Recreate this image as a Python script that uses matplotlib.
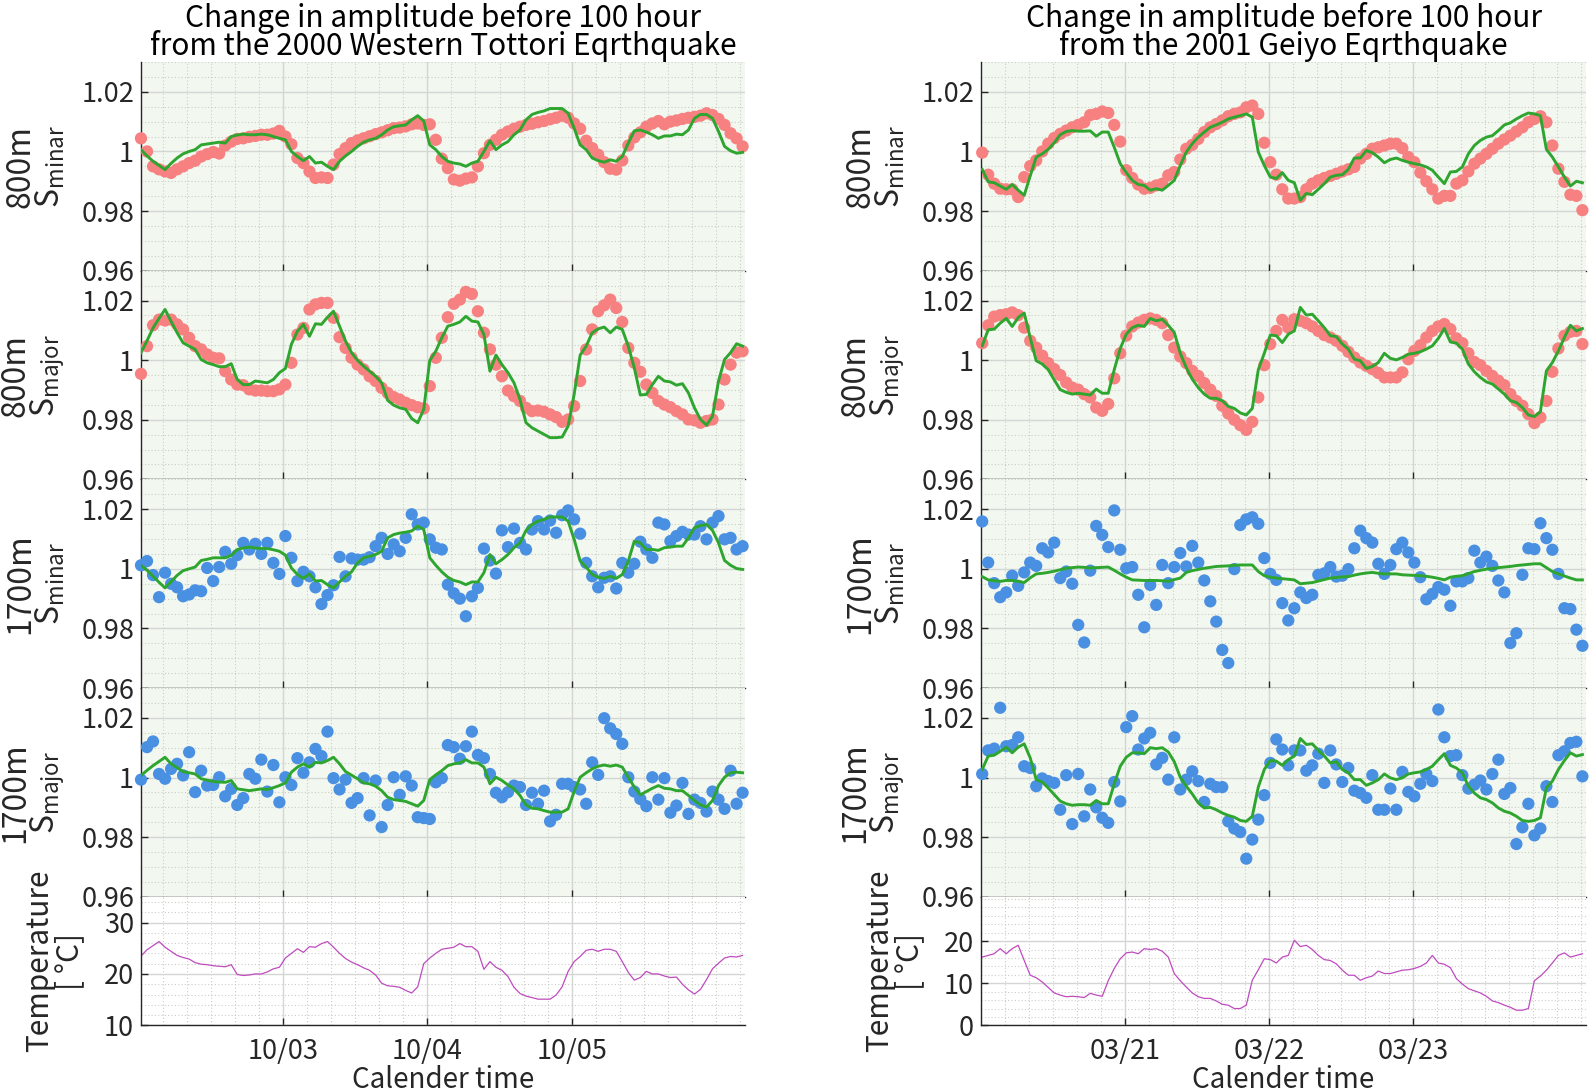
import numpy as np
import pandas as pd
import matplotlib
matplotlib.use('Agg')
import matplotlib.pyplot as plt
import matplotlib.dates as mdates
from matplotlib.ticker import FixedLocator, MultipleLocator, FuncFormatter

plt.rcParams['font.family'] = ['Noto Sans CJK JP', 'DejaVu Sans']

# ---------------- data ----------------
# hourly samples, 101 per series
# amplitude series are given as deviation from 1 in units of 1e-3
tottori_start = pd.Timestamp('2000-10-02 00:24')
geiyo_start = pd.Timestamp('2001-03-20 00:10')

tottori_800_minar = [
    4.4, 0, -5, -6, -6.7, -7.2, -6, -5, -3.9, -3.1,
    -1.7, -0.9, -0.2, -0.7, 2, 3.3, 4.2, 4.4, 4.9, 5.2,
    5.6, 5.6, 6, 6.9, 5, 2.4, -2.2, -3.9, -6.7, -8.9,
    -8.7, -8.9, -4.4, -0.9, 1.1, 2.8, 3.7, 4.4, 5.1, 5.8,
    6.4, 7.1, 7.8, 8, 8.4, 9.1, 9.4, 8.9, 9.1, 3.9,
    -2.4, -5.6, -9.4, -9.8, -9.1, -8.7, -5, -0.6, 2.2, 3.9,
    5.6, 6.7, 7.6, 8.3, 8.9, 9.3, 9.8, 10.2, 10.8, 11.3,
    12, 11.3, 9.4, 7.6, 3.6, 1.1, -1.1, -3.6, -5.8, -6.1,
    -3, 2, 4.7, 6.4, 8.3, 9.4, 10.2, 9.1, 10, 10.4,
    10.9, 11.3, 11.6, 12, 12.8, 12.2, 10.9, 8.9, 6.1, 4.4,
    1.7]
tottori_800_minar_fit = [
    0.6, -1.5, -3.3, -4.7, -6.1, -4, -2.2, -0.8, 0, 0.6,
    2.2, 2.5, 2.8, 3.1, 2.8, 5, 5.5, 5.8, 5.6, 5.6,
    5.8, 5.6, 5, 4.4, 3.9, 0, -1.7, -3.1, -1.7, -3.9,
    -3.6, -5, -6.1, -3.3, -1.5, 0, 1.7, 3.1, 3.9, 4.4,
    5.6, 7.2, 8.3, 8.6, 8.9, 10.6, 12, 10.2, 2.2, 0.6,
    -1.7, -3.3, -3.9, -4.2, -5, -3.9, -3.3, 0, 3.6, 0.6,
    2.2, 3.3, 5.6, 7.2, 10.6, 12.4, 13.1, 13.6, 14.4, 14.4,
    14.4, 12.8, 7.8, 2.2, 0.6, -2.2, -3.1, -3.6, -2.8, -3.3,
    -1.7, 2.8, 6.9, 7.2, 6.5, 5.6, 4.4, 5.2, 5.2, 5.8,
    5.6, 7.2, 11.1, 12.4, 12.4, 11.1, 6.7, 1.7, 0.2, -0.6,
    -0.3]
tottori_800_major = [
    -4.6, 4.7, 11.7, 13.6, 13.3, 13.6, 12, 10.3, 7.5, 4.7,
    3.6, 1.9, 0.8, 0.6, -3.7, -6.5, -8.2, -8.4, -9.8, -10.2,
    -10.2, -10.4, -10.4, -9.8, -8.2, -0.9, 8.6, 10.8, 17, 18.7,
    19.2, 19.2, 14.2, 7.7, 4.1, 0.8, -1.5, -3.1, -5.4, -7,
    -9.3, -11, -12.4, -13.2, -14.3, -15.1, -15.8, -16.2, -8.7, 0.8,
    7.5, 14.4, 18.9, 20.3, 22.9, 22.2, 16.4, 9.2, 3.6, -1.5,
    -5.4, -10.2, -12.1, -13.7, -16, -17.1, -16.9, -17.3, -18.2, -19.1,
    -20.7, -19.9, -15.4, -7, 3.6, 10.3, 16.4, 18.4, 20.3, 17.5,
    12.8, 4.1, -0.9, -3.9, -8.2, -11, -13.7, -14.9, -15.8, -17.1,
    -18.2, -19.9, -20.2, -21, -20.4, -19.9, -14.9, -6.5, -1.5, 2.5,
    3]
tottori_800_major_fit = [
    2.5, 6.5, 10.8, 14, 17, 13, 9.2, 5.8, 4.7, 3.6,
    0.2, -0.9, -1.5, -2.2, -2.2, -1.2, -6.5, -8.2, -8.2, -7,
    -7.3, -7.6, -6.5, -4.2, -2.8, 5.3, 9.7, 12, 8, 12.2,
    12, 14.4, 16.4, 11.4, 6.4, 2.5, -0.1, -2, -3.7, -5.4,
    -7.6, -13.5, -15.1, -16, -16.5, -19.6, -21, -16.5, -0.1, 3,
    7.5, 11.4, 12, 12.8, 14.7, 13.1, 12.8, 8.6, -3.7, 1.7,
    -1.5, -4.2, -7.6, -13.2, -21, -22.7, -23.8, -24.9, -26, -26,
    -25.8, -22.1, -11.5, 1.7, 4.7, 9.2, 10.5, 11.1, 9.2, 11.1,
    10.3, 4.7, -2.6, -11.7, -11.5, -8.2, -5.4, -7, -7.3, -8.4,
    -7.9, -11, -16, -19.9, -21.8, -18.8, -7, 0.2, 2.5, 5.5,
    4.7]
tottori_1700_minar = [
    1.2, 2.6, -2.1, -9.5, -1.3, -5, -6.2, -9.2, -8.6, -7.2,
    -7.5, 0.3, -4.1, 0.6, 5.7, 1.7, 4.6, 8.7, 6.5, 8.4,
    5, 8.7, 2, -1.7, 11, 3.7, -4.1, -1, -2.5, -6.2,
    -11.8, -8.8, -5.5, 4, -2.5, 3.5, 3.1, 3.1, 3.9, 7.6,
    10.4, 5, 8.2, 5.9, 10.4, 18.3, 14.9, 15.5, 9.9, 7.1,
    6.5, -5.3, -8.2, -10, -15.9, -9.2, -6.4, 6.8, 2.8, -1.6,
    12.9, 7.3, 13.5, 8.7, 6.5, 13.2, 16, 13.2, 16.2, 12.1,
    18, 19.6, 16.6, 11.8, 2, -2.5, -6.2, -3, -2.5, -6.6,
    2, -1.3, 1.7, 9.1, 6.5, 3.7, 15.5, 14.9, 9.3, 11,
    12.4, 11.5, 11.5, 14.3, 9.9, 15.5, 17.7, 9.9, 10.4, 6.5,
    7.6]
tottori_1700_minar_fit = [
    1.2, -0.5, -2.5, -4.5, -6.4, -4.3, -2.2, -0.6, 0, 0.6,
    2.8, 3.2, 3.7, 3.7, 3.7, 4.5, 6.5, 7, 7.3, 7,
    6.8, 6.8, 6.4, 5.9, 4.6, 0.3, -1.9, -3.2, -1.7, -4.1,
    -3.9, -5.3, -6.4, -4.4, -2.5, -1, 2, 3.7, 4.2, 4.8,
    5.9, 10.4, 11.5, 12, 12.3, 12.7, 14.3, 13.2, 3.7, 1.2,
    -1, -2.8, -3.9, -4.4, -5.3, -4.4, -4.4, -1.3, 4.8, 1.7,
    3.1, 4.8, 7.1, 8.7, 12.9, 14.9, 16, 16.6, 17.4, 17.4,
    17.4, 16, 9.9, 2.6, 0.6, -1.9, -2.8, -3.2, -2.5, -3.2,
    -1.9, 2.6, 9.3, 8.7, 6.5, 6.5, 6.2, 7.1, 7.3, 7.6,
    7.6, 10.4, 13.8, 14.5, 14.9, 12.9, 8.7, 2.8, 1.2, 0.1,
    -0.2]
tottori_1700_major = [
    -0.7, 10.2, 12.1, 1.2, -0.4, 2.9, 4.6, 0.7, 8.5, -4.9,
    2.3, -2.7, -2.5, 0.1, -6.3, -3.8, -9.2, -6.9, 1.2, -0.4,
    6, -4.7, 4.2, -8.3, 0.1, -2.5, 6.5, 1.6, 5.1, 9.6,
    7.2, 15.4, -0.2, -4, -0.7, -8.5, -6.9, -0.2, -12.7, -1,
    -16.6, -9.2, 0.1, -5.8, 0.4, -2.7, -13.3, -13.6, -13.9, -1.6,
    -0.2, 10.9, 10.2, 6.3, 10.5, 15.4, 7.6, 6.5, 1.2, -5.1,
    -6.6, -4.9, -2.7, -3.2, -9.2, -5.1, -8.8, -4.4, -14.7, -12.5,
    -2.1, -2.1, -3.2, -4, -8.8, 5.1, 0.9, 19.9, 16.5, 14.6,
    11.3, 0.1, -4.7, -7.2, -9.6, 0.1, -7.4, -0.2, -11.8, -9.4,
    -1.8, -12.2, -7.4, -8.5, -11.4, -4.7, -7.4, -10.5, 2.3, -8.8,
    -5.1]
tottori_1700_major_fit = [
    0.7, 2.4, 4, 5.4, 6.8, 4.6, 3.3, 2, 1.6, 1.2,
    -0.4, -0.9, -1.3, -1.5, -1.6, -1, -3.8, -4.1, -4.4, -4.1,
    -3.8, -4, -3.4, -2.7, -1.8, 1.8, 3.5, 4.6, 3.5, 5.1,
    4.9, 5.7, 6.8, 4.6, 2, 0.8, -0.4, -1.8, -2.1, -2.9,
    -4.4, -6.6, -7.4, -7.7, -8, -8.8, -9.6, -7.7, -0.7, 0.9,
    2.3, 4, 4.6, 4.9, 6, 4.9, 4.9, 3.5, -2.1, 0.1,
    -1, -2.5, -3.8, -6, -9.2, -10.3, -10.5, -11.1, -11.6, -11.6,
    -11.6, -10.5, -4.7, 0.1, 1.6, 2.9, 3.8, 4.2, 3.8, 4.2,
    3.5, 0.1, -3.2, -5.8, -4.7, -3.6, -2.7, -3.6, -3.8, -4.4,
    -4.4, -6, -7.7, -9.2, -9.9, -7.7, -2.7, 0.1, 1.6, 1.8,
    1.6]
tottori_temp = [
    23.5, 24.7, 25.5, 26.3, 25.2, 24.4, 23.6, 23.2, 22.9, 22.2,
    21.9, 21.8, 21.6, 21.5, 21.4, 21.8, 19.9, 19.7, 19.8, 20,
    20, 20.4, 21, 21.3, 23.1, 24, 24.9, 24.2, 25.3, 25.2,
    25.9, 26.3, 25.2, 24, 23, 22.3, 21.8, 21.2, 20.7, 19.8,
    18.2, 17.7, 17.6, 17.4, 16.8, 16.3, 17.5, 22, 23.1, 24,
    24.8, 25, 25.2, 25.9, 25.3, 25.3, 24.4, 20.9, 22.4, 21.3,
    20.7, 19.5, 17.4, 16.2, 15.7, 15.4, 15.1, 15.1, 15.1, 15.9,
    17.5, 20.5, 22.4, 23.4, 24.6, 24.8, 24.4, 24.8, 24.8, 24.4,
    22.4, 20.3, 18.8, 19.3, 20.5, 20, 20, 19.6, 19.3, 19.4,
    18, 16.9, 16.1, 17, 18.9, 21, 22.1, 23.1, 23.4, 23.3,
    23.6]

geiyo_800_minar = [
    -0.4, -7.8, -10.8, -12.5, -12.7, -12.7, -15.3, -8.6, -4.9, -3,
    0, 2.6, 4.5, 5.9, 7, 8.1, 8.9, 9.8, 12.2, 12.6,
    13.4, 12.9, 8.9, 3.3, -6.3, -8.9, -11.1, -12.5, -12.2, -11.4,
    -10.8, -8, -6.9, -2.7, 0.9, 2.2, 4.2, 6.5, 8.1, 9.2,
    10.4, 11.8, 12.6, 13.1, 14.8, 15.4, 12.6, 2.9, -3.6, -7.8,
    -12.7, -15.8, -15.8, -15.3, -12.7, -10.8, -9.7, -8.9, -8.2, -7.5,
    -6.7, -6, -5.2, -2.4, -0.8, 0.9, 1.4, 2, 2.6, 2.6,
    1.1, -1.9, -3.6, -7.1, -10, -12.7, -15.8, -14.9, -14.9, -10.8,
    -9.7, -6.7, -4.1, -2.4, -0.8, 0.9, 2.6, 4, 5.3, 6.7,
    8.1, 9.8, 10.9, 11.8, 9.8, 2, -5.8, -10.2, -14.5, -14.9,
    -19.7]
geiyo_800_minar_fit = [
    -6, -10.2, -10.5, -11.6, -12.7, -11.1, -13, -14.7, -8.2, -1.9,
    -0.8, 0.7, 2.9, 5.6, 6.7, 7, 6.8, 6.8, 6.9, 5.1,
    6.5, 6.5, 1.4, -4.1, -7.1, -9.7, -11.1, -11.4, -13, -12.5,
    -13, -11.4, -9.7, -4.7, -0.2, 2.6, 4.8, 6.5, 8.1, 8.9,
    9.8, 10.9, 11.5, 12, 12.6, 11.5, -0.2, -4.7, -8.6, -9.1,
    -7.1, -9.7, -10.5, -16.4, -14.1, -14.5, -12.7, -10.8, -8.6, -8,
    -7.8, -6, -2.2, -2.2, 0.3, -0.4, -1.9, -3.8, -2.7, -2.2,
    -3, -3.6, -4.1, -4.5, -5.2, -6.3, -8.6, -10.8, -6.9, -6.7,
    -5.2, -0.8, 2, 3.7, 4.8, 5.3, 7, 8.9, 9.6, 10.9,
    12, 12.9, 12.6, 12, 0.7, -1.9, -5.2, -8.6, -11.6, -10,
    -10.5]
geiyo_800_major = [
    5.7, 11.7, 14.6, 15.1, 15.4, 16, 15.1, 10.9, 6.5, 4.2,
    1.5, -1, -3, -5, -7.5, -9.2, -9.9, -11.4, -12.5, -15.9,
    -17, -14.7, -6.1, 2.3, 8.2, 11.3, 12.6, 13.5, 14, 13.5,
    12.4, 8.4, 4.2, 1.2, -1, -3.6, -5.3, -7.7, -9.9, -12,
    -15.3, -17.9, -20, -21.8, -23.4, -20.7, -12.5, -1.7, 5.4, 9.8,
    13.5, 10.9, 13.7, 13.2, 12.4, 11.3, 9.8, 8.4, 7.6, 6.5,
    4.8, 2.8, 0.9, -0.8, -1.9, -3, -4.3, -5.8, -5.8, -5.8,
    -4.1, 0.3, 3.1, 5, 7.6, 9.8, 11.3, 12.1, 10.4, 7.3,
    5.7, 2.3, -0.6, -1.7, -3.6, -5.3, -6.9, -8.4, -11.4, -13.7,
    -15.3, -18.1, -21.1, -19.2, -13.7, -3.9, 3.9, 8.2, 9.5, 9.8,
    5.4]
geiyo_800_major_fit = [
    4.8, 10.2, 10.4, 12.4, 14, 11.3, 14.3, 15.8, 7.5, -0.2,
    -1.3, -3.2, -6.6, -9.9, -10.8, -11.4, -11.1, -11.4, -11.7, -9.7,
    -11.1, -11.1, -3.2, 3.9, 8.7, 10.9, 11.7, 11.3, 14, 13.2,
    13.7, 11.7, 9.3, 2.3, -2.5, -6.4, -9.2, -11.4, -12.8, -12.8,
    -13.6, -15.5, -16.2, -17.7, -18.4, -16.2, -3.2, 2.3, 8.4, 8.2,
    5.9, 8.7, 9.8, 17.7, 15.1, 15.4, 13.2, 10.9, 8.2, 7.9,
    5.4, 3.7, 0.3, -0.2, -2.8, -2.1, -0.8, 2.3, 0.6, 0.1,
    0.9, 2, 2.3, 2.8, 3.7, 4.8, 7.3, 10.6, 6.1, 5.7,
    3.7, -1.3, -3.9, -5.8, -7.3, -8, -9.7, -11.4, -13.6, -14.2,
    -15.9, -18.4, -18.9, -17.3, -3.6, -0.8, 3.1, 7.6, 11.7, 9.8,
    10.6]
geiyo_1700_minar = [
    15.9, 2.1, -4.8, -9.5, -7.9, -2.3, -5.7, -1.2, 2.1, 1,
    6.9, 5.5, 8.8, -3.1, -0.9, -5, -18.8, -24.7, -0.6, 14.4,
    11.4, 7.3, 19.6, 6.4, 0.2, 0.6, -8.7, -19.6, -5.4, -12.1,
    1.3, -4.8, 0.6, 5.3, 0.8, 7.7, 2.1, -3.9, -10.9, -17.7,
    -27.2, -31.6, -0.1, 14.7, 16.6, 17.3, 15.1, 3.6, -1.7, -3.7,
    -11.5, -17.3, -13.2, -7.9, -9.8, -8.7, -2, -1.5, 0.6, -2.6,
    -2.3, -0.1, 6.9, 12.8, 10.3, 8.8, 1.7, -1.7, 1.3, 6.6,
    8.8, 5.5, 2.1, -2.8, -10.2, -8.4, -6.1, -7, -12.4, -4.2,
    -4.2, -3.1, 6.1, 2.1, 4.1, 1, -3.9, -7.9, -24.9, -21.6,
    -2, 6.9, 6.6, 15.3, 10.3, 6.4, -1.7, -13.2, -13.5, -20.4,
    -25.8]
geiyo_1700_minar_fit = [
    -2.6, -3.7, -4, -4.2, -3.9, -3.9, -4.2, -4.6, -3, -1.7,
    -1.5, -1.2, -0.8, -0.3, 0.2, 0.4, 0.6, 0.5, 0.3, 0.4,
    0.5, 0.6, -0.5, -1.7, -2.8, -3.7, -3.8, -3.9, -3.9, -3.9,
    -4, -4.2, -3.6, -3.1, -1.2, -0.6, -0.2, 0.2, 0.5, 0.8,
    0.9, 1, 1.2, 1.3, 1.3, 1.3, -0.9, -2.3, -2.8, -3.1,
    -3.3, -3.5, -3.7, -5, -4.8, -4.6, -4.1, -3.6, -3.1, -2.9,
    -2.7, -2.6, -2.1, -1.7, -1.4, -1.2, -1.5, -1.7, -1.7, -1.7,
    -2, -2.1, -2.2, -2.3, -2.5, -2.8, -3.2, -3.7, -2.8, -2.5,
    -2.3, -1.6, -0.9, -0.5, -0.1, 0.1, 0.4, 0.6, 0.8, 1.1,
    1.3, 1.5, 1.7, 1.7, 0.4, -0.9, -1.7, -2.4, -3.1, -3.7,
    -3.7]
geiyo_1700_major = [
    1.2, 9.1, 9.7, 23.4, 10.5, 10.9, 13.5, 3.8, 3.2, -2.9,
    -0.3, -1.2, -1.8, -10.8, 0.8, -15.6, 1.2, -13, -4, -10,
    -13.5, -15.2, -1.5, -8, 16.9, 20.6, 9.4, 13.1, 15, 4.4,
    6.6, -0.7, 13.5, -4, -0.7, 2.1, -1.2, -8.2, -2.1, -3.2,
    -3.2, -14.7, -17.1, -18.3, -27.2, -20.8, -14.1, -5.9, 4.9, 12.8,
    9.4, 4.1, 9.1, 9.1, 2.3, 4.1, 8, -1.8, 9.1, 4.4,
    -1.5, 3.2, -4.4, -5.2, -6.8, 0.8, -10.8, -10.8, -3.7, -10.8,
    1.9, -4.8, -6.3, -2.1, 1.2, -1.2, 22.8, 13.5, 7.2, 7.5,
    0.8, -3.7, -2.4, -1, -4, 1.2, 6, -5.5, -3.5, -22.3,
    -16.7, -8.8, -19.4, -17.1, -2.9, -8.2, 7.5, 8.8, 11.6, 12,
    0.4]
geiyo_1700_major_fit = [
    2.7, 7.2, 7.5, 8.8, 10.2, 8.3, 10.2, 11.3, 6.6, -0.7,
    -1.5, -3.5, -5.7, -7.9, -8.8, -9.3, -9.1, -9.1, -9.3, -7.7,
    -8.8, -8.8, -2.1, 3.8, 6.8, 8.3, 8.3, 8, 10, 9.7,
    10, 8.6, 5.3, 0.1, -2.9, -5.5, -8.5, -10.2, -10, -10.8,
    -11.9, -12.7, -13.3, -14.4, -14.7, -13, -3.2, 2.7, 5.7, 5.5,
    4.1, 6, 7.2, 13.1, 11.1, 11.3, 9.1, 7.2, 4.9, 5.3,
    2.7, 1.6, -0.7, -0.7, -2.6, -1.8, -0.7, 1.2, -0.1, -0.7,
    -0.1, 1.2, 1.6, 1.9, 2.7, 3.8, 6, 8, 4.1, 3.2,
    1.6, -2.9, -5.2, -6.8, -7.4, -8.5, -10.2, -11.3, -11.9, -13,
    -14.4, -14.7, -14.4, -13.5, -3.5, -1.2, 2.7, 5.7, 8.3, 7.2,
    7.7]
geiyo_temp = [
    16.2, 16.6, 17, 18.2, 17, 18.2, 19, 15.4, 11.9, 11.3,
    10.3, 9, 7.7, 7.2, 6.8, 6.9, 6.8, 6.6, 7.6, 7.2,
    6.9, 10.6, 13.5, 15.8, 17.2, 17.4, 17, 18.2, 18, 18.2,
    17.6, 16.2, 12.3, 10.6, 9.1, 7.7, 6.8, 6.4, 6.4, 5.8,
    5, 4.8, 4, 4, 4.8, 10.7, 13.2, 15.8, 15.6, 14.8,
    16.2, 16.6, 20.2, 18.7, 19, 18, 16.6, 15.6, 15.4, 14.6,
    13.1, 11.9, 11.9, 10.7, 11.3, 11.7, 12.9, 12.3, 12.3, 12.7,
    13.1, 13.2, 13.5, 14, 14.8, 16.6, 14.8, 14.5, 13.7, 11.1,
    9.8, 8.7, 8.2, 7.7, 6.9, 5.8, 5.4, 4.8, 4.3, 3.6,
    3.6, 4, 10.6, 11.7, 13.1, 14.8, 16.6, 17.2, 16.2, 16.6,
    17]

tottori_days = ['2000-10-03', '2000-10-04', '2000-10-05']
geiyo_days = ['2001-03-21', '2001-03-22', '2001-03-23']

# ---------------- styling ----------------
RED = '#f78080'
BLUE = '#4a90e2'
GREEN = '#2ea52e'
MAGENTA = '#bf4bbf'
PANEL_BG = '#f2f8f0'
AXC = '#262626'

fig = plt.figure(figsize=(15.94, 10.92), dpi=100)

H = 1092.0
W = 1594.0
top_px = 62.0
panel_px = 208.7
temp_px = 128.6

cols = [
    dict(x0=141, w=604, start=tottori_start, lim=(0, 100.4), days=tottori_days,
         tlim=(10, 35), tticks=[10, 20, 30],
         title='Change in amplitude before 100 hour\nfrom the 2000 Western Tottori Eqrthquake',
         series=[(tottori_800_minar, tottori_800_minar_fit, RED, '800m\nS$_{\\mathregular{minar}}$'),
                 (tottori_800_major, tottori_800_major_fit, RED, '800m\nS$_{\\mathregular{major}}$'),
                 (tottori_1700_minar, tottori_1700_minar_fit, BLUE, '1700m\nS$_{\\mathregular{minar}}$'),
                 (tottori_1700_major, tottori_1700_major_fit, BLUE, '1700m\nS$_{\\mathregular{major}}$')],
         temp=tottori_temp),
    dict(x0=981, w=605, start=geiyo_start, lim=(-0.2, 100.6), days=geiyo_days,
         tlim=(0, 30.5), tticks=[0, 10, 20],
         title='Change in amplitude before 100 hour\nfrom the 2001 Geiyo Eqrthquake',
         series=[(geiyo_800_minar, geiyo_800_minar_fit, RED, '800m\nS$_{\\mathregular{minar}}$'),
                 (geiyo_800_major, geiyo_800_major_fit, RED, '800m\nS$_{\\mathregular{major}}$'),
                 (geiyo_1700_minar, geiyo_1700_minar_fit, BLUE, '1700m\nS$_{\\mathregular{minar}}$'),
                 (geiyo_1700_major, geiyo_1700_major_fit, BLUE, '1700m\nS$_{\\mathregular{major}}$')],
         temp=geiyo_temp),
]


def style_axes(ax, c, bg):
    ax.set_facecolor(bg)
    for s in ['top', 'right']:
        ax.spines[s].set_visible(False)
    for s in ['left', 'bottom']:
        ax.spines[s].set_color(AXC)
        ax.spines[s].set_linewidth(1.0)
    ax.set_xlim(c['start'] + pd.Timedelta(hours=c['lim'][0]),
                c['start'] + pd.Timedelta(hours=c['lim'][1]))
    ax.xaxis.set_major_locator(FixedLocator(mdates.date2num(pd.to_datetime(c['days']))))
    ax.xaxis.set_minor_locator(mdates.HourLocator(byhour=range(0, 24, 4)))
    ax.xaxis.set_major_formatter(mdates.DateFormatter('%m/%d'))
    ax.tick_params(which='major', direction='in', length=5, color=AXC,
                   labelsize=19.5, labelcolor=AXC, width=1.0)
    ax.tick_params(axis='y', which='major', pad=5)
    ax.tick_params(axis='x', which='major', pad=9)
    ax.tick_params(which='minor', length=0)
    ax.set_axisbelow(True)
    ax.grid(which='major', color='#d3d6d2', lw=1.0)
    ax.grid(which='minor', color='#c9cdc7', lw=0.8, ls=(0, (1, 2)))


for c in cols:
    times = c['start'] + pd.to_timedelta(np.arange(len(c['temp'])), unit='h')
    for i, (dots, fit, color, label) in enumerate(c['series']):
        bottom = H - (top_px + (i + 1) * panel_px)
        ax = fig.add_axes([c['x0'] / W, bottom / H, c['w'] / W, panel_px / H])
        style_axes(ax, c, PANEL_BG)
        ax.scatter(times, 1 + np.array(dots) / 1000, s=78, color=color,
                   edgecolors='none', clip_on=False, zorder=3)
        ax.plot(times, 1 + np.array(fit) / 1000, color=GREEN, lw=2.1, zorder=4)
        ax.set_ylim(0.96, 1.03)
        ax.yaxis.set_major_locator(FixedLocator([0.96, 0.98, 1.0, 1.02]))
        ax.yaxis.set_minor_locator(MultipleLocator(0.005))
        ax.yaxis.set_major_formatter(FuncFormatter(lambda v, p: f'{v:g}'))
        ax.tick_params(axis='x', labelbottom=False)
        ax.set_ylabel(label, fontsize=23, color=AXC, linespacing=0.9)
        ax.yaxis.set_label_coords(-0.122, 0.5)
        if i == 0:
            ax.set_title(c['title'], fontsize=21.5, color='black', pad=0.5, linespacing=0.85)

    bottom = H - (top_px + 4 * panel_px + temp_px)
    ax = fig.add_axes([c['x0'] / W, bottom / H, c['w'] / W, temp_px / H])
    style_axes(ax, c, 'white')
    ax.plot(times, c['temp'], color=MAGENTA, lw=0.9)
    ax.set_ylim(*c['tlim'])
    ax.yaxis.set_major_locator(FixedLocator(c['tticks']))
    ax.yaxis.set_minor_locator(MultipleLocator(2))
    ax.set_ylabel('Temperature\n[ \u00b0C]', fontsize=21.5, color=AXC, linespacing=0.95)
    ax.yaxis.set_label_coords(-0.093, 0.5)
    ax.set_xlabel('Calender time', fontsize=20, color=AXC, labelpad=0)

fig.savefig('out.png', dpi=100)
